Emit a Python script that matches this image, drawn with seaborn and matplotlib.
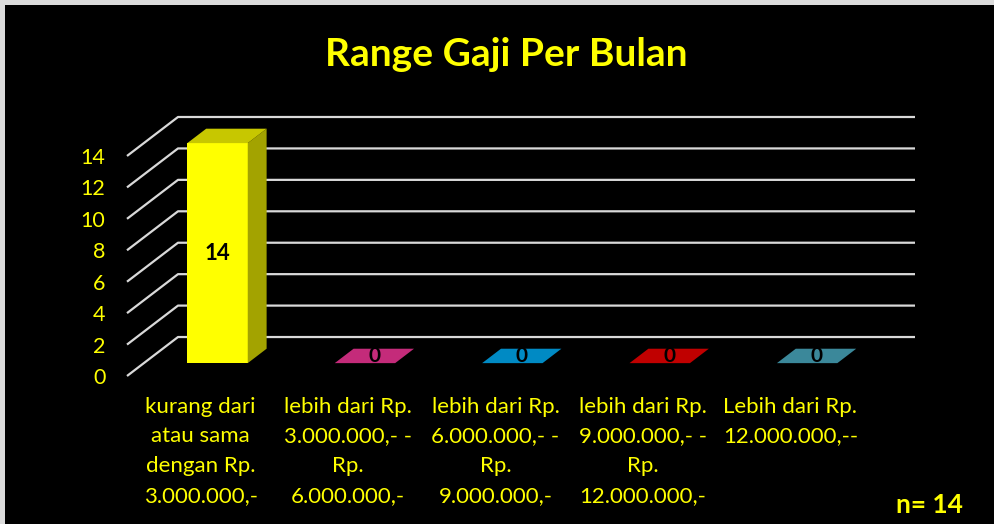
import numpy as np
import matplotlib.pyplot as plt
import matplotlib.colors as mcolors
from matplotlib.patches import Polygon, Rectangle
import seaborn as sns

# data
categories = [
    'kurang dari\natau sama\ndengan Rp.\n3.000.000,-',
    'lebih dari Rp.\n3.000.000,- -\nRp.\n6.000.000,-',
    'lebih dari Rp.\n6.000.000,- -\nRp.\n9.000.000,-',
    'lebih dari Rp.\n9.000.000,- -\nRp.\n12.000.000,-',
    'Lebih dari Rp.\n12.000.000,--',
]
jumlah = [14, 0, 0, 0, 0]
y_ticks = [0, 2, 4, 6, 8, 10, 12, 14]
judul = 'Range Gaji Per Bulan'
n_label = 'n= 14'

# warna muka depan batang
bar_colors = ['#FFFF00', '#FB379C', '#00B1FB', '#F60000', '#4CAEC5']
KUNING = '#FFFF00'
GRID = '#d9d9d9'

# parameter efek 3D (kedalaman dalam satuan data)
DX = 0.346          # kedalaman arah x (satuan kategori)
DY = 2.48           # kedalaman arah y (satuan nilai)
F0, F1 = 0.33, 0.70  # posisi depan/belakang batang dalam kedalaman
BAR_W = 0.41

sns.set_style('white')
plt.rcParams['font.family'] = ['Lato', 'DejaVu Sans']


def shade(c, f):
    r, g, b = mcolors.to_rgb(c)
    return (r * f, g * f, b * f)


fig = plt.figure(figsize=(9.95, 5.24), dpi=100, facecolor='#dcdcdc')
bg = Rectangle((5 / 995, 0), 1, 1 - 5 / 524, transform=fig.transFigure,
               facecolor='black', edgecolor='none', zorder=-10)
fig.patches.append(bg)

ax = fig.add_axes([127 / 995, 148 / 524, 788 / 995, 259 / 524])
ax.set_facecolor('none')
ax.set_zorder(1)

sns.barplot(x=categories, y=jumlah, hue=categories, palette=bar_colors, legend=False,
            width=BAR_W, saturation=1, edgecolor='none', ax=ax, zorder=3)

xmax = len(categories) - 0.5 + DX

# garis grid: diagonal di dinding kiri lalu horizontal di dinding belakang
for v in y_ticks:
    ax.plot([-0.5, -0.5 + DX, xmax], [v, v + DY, v + DY], color=GRID, lw=1.6,
            zorder=1, solid_capstyle='butt', clip_on=False)

bx = (F1 - F0) * DX
by = (F1 - F0) * DY
for p, c, val in zip(ax.patches, bar_colors, jumlah):
    x0 = p.get_x() + F0 * DX
    y0 = F0 * DY
    w = p.get_width()
    h = p.get_height()
    p.set_x(x0)
    p.set_y(y0)
    p.set_clip_on(False)
    top = Polygon([(x0, y0 + h), (x0 + w, y0 + h), (x0 + w + bx, y0 + h + by), (x0 + bx, y0 + h + by)],
                  closed=True, facecolor=shade(c, 0.78), edgecolor='none', zorder=3, clip_on=False)
    side = Polygon([(x0 + w, y0), (x0 + w + bx, y0 + by), (x0 + w + bx, y0 + h + by), (x0 + w, y0 + h)],
                   closed=True, facecolor=shade(c, 0.64), edgecolor='none', zorder=3, clip_on=False)
    ax.add_patch(side)
    ax.add_patch(top)
    if h > 0:
        ax.text(x0 + w / 2, y0 + h / 2, str(val), ha='center', va='center',
                fontsize=16, fontweight='bold', color='black', zorder=5)
    else:
        ax.text(x0 + w / 2 + bx / 2, y0 + by / 2, str(val), ha='center', va='center',
                fontsize=15, fontweight='bold', color='black', zorder=5)

ax.set_xlim(-0.5, xmax)
ax.set_ylim(0, 14 + DY)
ax.set_yticks(y_ticks)
ax.set_xticks(range(len(categories)))
ax.set_xticklabels(categories)
ax.set_xlabel('')
ax.set_ylabel('')
ax.tick_params(axis='y', length=0, pad=15.5, labelcolor=KUNING, labelsize=15.5)
ax.tick_params(axis='x', length=0, pad=15, labelcolor=KUNING, labelsize=16)
for lbl in ax.get_xticklabels():
    lbl.set_linespacing(1.6)
for s in ax.spines.values():
    s.set_visible(False)
ax.grid(False)

fig.text(506 / 995, 1 - 55 / 524, judul, ha='center', va='center', fontsize=28,
         fontweight='bold', color=KUNING)
fig.text(929 / 995, 1 - 505 / 524, n_label, ha='center', va='center', fontsize=19,
         fontweight='bold', color=KUNING)

fig.savefig('out.png', dpi=100, facecolor=fig.get_facecolor())
